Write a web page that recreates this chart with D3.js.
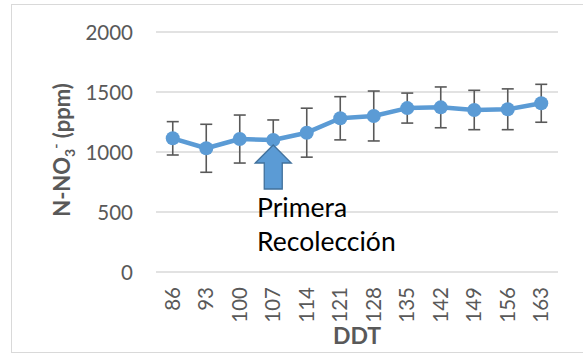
<!DOCTYPE html>
<html>
<head>
<meta charset="utf-8">
<script src="https://cdn.jsdelivr.net/npm/d3@7"></script>
<style>
  html, body { margin: 0; padding: 0; background: #fff; }
  svg { display: block; }
  text { font-family: Lato, "Open Sans", sans-serif; }
</style>
</head>
<body>
<svg id="chart" width="583" height="354"></svg>
<script>
// Days after transplant (DDT)
const categories = ["86", "93", "100", "107", "114", "121", "128", "135", "142", "149", "156", "163"];
// Mean nitrate-nitrogen concentration (ppm)
const values = [1114, 1031, 1108, 1100, 1161, 1281, 1300, 1366, 1372, 1350, 1356, 1406];
// Error bar half-width (ppm)
const errors = [139, 200, 200, 167, 204, 180, 208, 125, 170, 164, 170, 158];
const yTicks = [0, 500, 1000, 1500, 2000];
const marked = "107";

const svg = d3.select("#chart");
const plot = { left: 156, right: 558, top: 32, bottom: 272 };

// Outer chart frame
svg.append("rect")
  .attr("x", 11.5).attr("y", 4.5)
  .attr("width", 600).attr("height", 348)
  .attr("fill", "#fff").attr("stroke", "#d9d9d9").attr("stroke-width", 1);

const x = d3.scaleBand().domain(categories).range([plot.left, plot.right]);
const y = d3.scaleLinear().domain([0, 2000]).range([plot.bottom, plot.top]);
const cx = d => x(d) + x.bandwidth() / 2;

// Gridlines
svg.append("g").selectAll("line").data(yTicks).join("line")
  .attr("x1", plot.left).attr("x2", plot.right)
  .attr("y1", d => y(d)).attr("y2", d => y(d))
  .attr("stroke", "#d9d9d9").attr("stroke-width", 1.3);

// Y axis labels
const yAxis = d3.axisLeft(y).tickValues(yTicks).tickFormat(d3.format("d")).tickSize(0).tickPadding(0);
const gy = svg.append("g").attr("transform", `translate(133,0)`).call(yAxis);
gy.select(".domain").remove();
gy.selectAll("text")
  .attr("fill", "#595959").attr("font-size", 20.5)
  .attr("font-family", "Lato, 'Open Sans', sans-serif")
  .attr("dy", "0.35em");

// X axis labels (rotated)
const xAxis = d3.axisBottom(x).tickSize(0).tickPadding(0);
const gx = svg.append("g").attr("transform", `translate(0,${plot.bottom})`).call(xAxis);
gx.select(".domain").remove();
gx.selectAll("text")
  .attr("fill", "#595959").attr("font-size", 20.5)
  .attr("font-family", "Lato, 'Open Sans', sans-serif")
  .attr("text-anchor", "end")
  .attr("transform", "translate(0,15) rotate(-90)")
  .attr("x", 0).attr("y", 0).attr("dy", "0.35em");

// Axis titles
svg.append("text")
  .attr("x", 357).attr("y", 344)
  .attr("text-anchor", "middle")
  .attr("font-size", 23).attr("font-weight", "bold").attr("fill", "#595959")
  .text("DDT");

const yt = svg.append("text")
  .attr("transform", "translate(70,150) rotate(-90)")
  .attr("text-anchor", "middle")
  .attr("font-size", 22).attr("font-weight", "bold").attr("fill", "#595959");
yt.append("tspan").text("N-NO");
yt.append("tspan").attr("font-size", 14).attr("dy", 5).text("3");
yt.append("tspan").attr("font-size", 14).attr("dy", -14).text("-");
yt.append("tspan").attr("dy", 9).text(" (ppm)");

// Error bars
const eb = svg.append("g").attr("stroke", "#595959").attr("stroke-width", 1.6);
categories.forEach((c, i) => {
  const xc = cx(c), hi = y(values[i] + errors[i]), lo = y(values[i] - errors[i]);
  eb.append("line").attr("x1", xc).attr("x2", xc).attr("y1", hi).attr("y2", lo);
  eb.append("line").attr("x1", xc - 6).attr("x2", xc + 6).attr("y1", hi).attr("y2", hi);
  eb.append("line").attr("x1", xc - 6).attr("x2", xc + 6).attr("y1", lo).attr("y2", lo);
});

// Series line and markers
const line = d3.line().x((d, i) => cx(categories[i])).y(d => y(d));
svg.append("path").datum(values)
  .attr("d", line).attr("fill", "none")
  .attr("stroke", "#5b9bd5").attr("stroke-width", 4.5).attr("stroke-linejoin", "round");
svg.append("g").selectAll("circle").data(values).join("circle")
  .attr("cx", (d, i) => cx(categories[i])).attr("cy", d => y(d))
  .attr("r", 7).attr("fill", "#5b9bd5");

// Arrow pointing at the first harvest
const ax = cx(marked);
const tipY = y(values[categories.indexOf(marked)]) + 5;
const arrow = [
  [ax, tipY], [ax + 18, tipY + 18], [ax + 9, tipY + 18], [ax + 9, tipY + 44],
  [ax - 9, tipY + 44], [ax - 9, tipY + 18], [ax - 18, tipY + 18]
];
svg.append("path")
  .attr("d", d3.line()(arrow) + "Z")
  .attr("fill", "#5b9bd5").attr("stroke", "#41719c").attr("stroke-width", 1.3);

// Annotation
svg.append("text").attr("x", 257).attr("y", 217)
  .attr("font-size", 26.5).attr("fill", "#000").text("Primera");
svg.append("text").attr("x", 257).attr("y", 251)
  .attr("font-size", 26.5).attr("fill", "#000").text("Recolección");
</script>
</body>
</html>
